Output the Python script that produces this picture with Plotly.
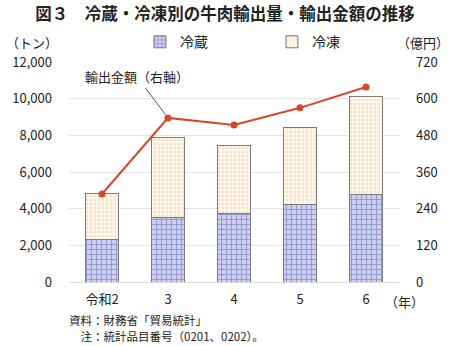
import plotly.graph_objects as go

years = ["令和2", "3", "4", "5", "6"]
chilled = [2340, 3500, 3740, 4250, 4800]      # 冷蔵 (トン)
frozen_total = [4840, 7880, 7460, 8430, 10120]
frozen = [t - c for t, c in zip(frozen_total, chilled)]  # 冷凍 (トン)
value = [288, 537, 514, 570, 638]              # 輸出金額 (億円)

left_ticks = [0, 2000, 4000, 6000, 8000, 10000, 12000]
right_ticks = [0, 120, 240, 360, 480, 600, 720]

FONT = "Noto Sans CJK JP"
TXT = "#222222"

fig = go.Figure()
fig.add_trace(go.Bar(
    x=years, y=chilled, name="冷蔵",
    marker=dict(color="#c4c6ec", line=dict(color="#7a7a7a", width=1),
                pattern=dict(shape="+", fgcolor="#5c61b8", bgcolor="#cfd0f0",
                             size=5, solidity=0.4)),
))
fig.add_trace(go.Bar(
    x=years, y=frozen, name="冷凍",
    marker=dict(color="#fdf6e4", line=dict(color="#7a7a7a", width=1),
                pattern=dict(shape=".", fgcolor="#ecc99a", bgcolor="#fdf7ea",
                             size=4, solidity=0.3)),
))
fig.add_trace(go.Scatter(
    x=years, y=value, name="輸出金額", yaxis="y2", showlegend=False,
    mode="lines+markers",
    line=dict(color="#d9452b", width=2),
    marker=dict(color="#d9452b", size=7),
))

fig.update_layout(
    width=450, height=346,
    margin=dict(l=60, r=47, t=62, b=64),
    paper_bgcolor="white", plot_bgcolor="white",
    font=dict(family=FONT, size=13, color=TXT),
    barmode="stack", bargap=0.49,
    showlegend=True,
    legend=dict(orientation="h", x=0.215, y=1.09, xanchor="left", yanchor="middle",
                font=dict(size=14), itemwidth=30, traceorder="normal",
                entrywidth=87, entrywidthmode="pixels",
                bgcolor="rgba(0,0,0,0)"),
    xaxis=dict(showgrid=False, showline=False, ticks="",
               tickfont=dict(size=13), ticklabelstandoff=8),
    yaxis=dict(range=[0, 12000], tickvals=left_ticks, tickformat=",d",
               showgrid=True, gridcolor="#e4e4e4", gridwidth=1,
               zeroline=True, zerolinecolor="#d9d9d9", zerolinewidth=1,
               showline=False, ticks="", ticklabelstandoff=16),
    yaxis2=dict(range=[0, 720], tickvals=right_ticks, overlaying="y", side="right",
                showgrid=False, zeroline=False, showline=False, ticks="",
                ticklabelstandoff=16),
    title=dict(text="<b>図３　冷蔵・冷凍別の牛肉輸出量・輸出金額の推移</b>",
               x=0.5, xanchor="center", y=0.96, yanchor="middle",
               font=dict(size=16.5, color=TXT)),
)

annos = [
    dict(text="（トン）", x=22, y=42),
    dict(text="（億円）", x=428, y=42),
    dict(text="（年）", x=409, y=301),
]
for a in annos:
    fig.add_annotation(text=a["text"], xref="paper", yref="paper",
                       x=(a["x"] - 60) / 343, y=(282 - a["y"]) / 220,
                       xanchor="center", yanchor="middle", showarrow=False,
                       font=dict(size=13, color=TXT))

notes = [
    dict(text="資料：財務省「貿易統計」", x=59, y=320),
    dict(text="　注：統計品目番号（0201、0202）。", x=59, y=336),
]
for a in notes:
    fig.add_annotation(text=a["text"], xref="paper", yref="paper",
                       x=(a["x"] - 60) / 343, y=(282 - a["y"]) / 220,
                       xanchor="left", yanchor="middle", showarrow=False,
                       font=dict(size=11.5, color=TXT), borderpad=0)

# 輸出金額の系列ラベルと引き出し線（令和3年の点を指す）
fig.add_annotation(text="輸出金額（右軸）", x=1, y=value[1], xref="x", yref="y2",
                   ax=-31, ay=-41, showarrow=True, arrowhead=0, arrowwidth=1,
                   arrowcolor="#555555", standoff=4,
                   font=dict(size=13, color=TXT))

fig.write_html("out.html")
